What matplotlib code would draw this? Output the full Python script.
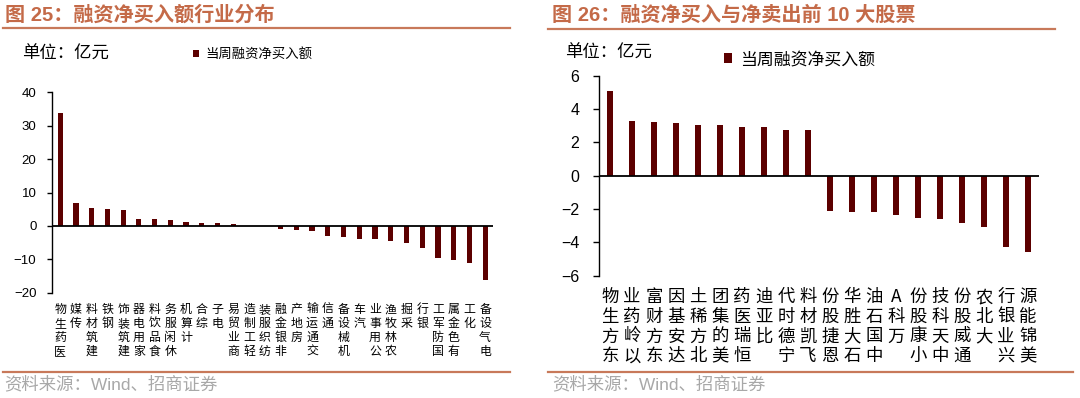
import matplotlib
matplotlib.use("Agg")
import matplotlib.pyplot as plt
from matplotlib.transforms import blended_transform_factory
from matplotlib.lines import Line2D

plt.rcParams['font.family'] = ['Liberation Sans', 'Noto Sans CJK SC', 'DejaVu Sans']

# ---------------- data ----------------
industries = ['医药生物', '传媒', '建筑材料', '钢铁', '建筑装饰', '家用电器', '食品饮料',
              '休闲服务', '计算机', '综合', '电子', '商业贸易', '轻工制造', '纺织服装',
              '非银金融', '房地产', '交通运输', '通信', '机械设备', '汽车', '公用事业',
              '农林牧渔', '采掘', '银行', '国防军工', '有色金属', '化工', '电气设备']
industry_values = [33.8, 6.8, 5.5, 5.0, 4.9, 2.2, 2.1, 1.9, 1.3, 0.9, 0.8, 0.5, 0.1, -0.1,
                   -0.8, -1.1, -1.6, -3.1, -3.3, -3.8, -4.0, -4.5, -5.2, -6.7, -9.5,
                   -10.3, -11.0, -16.3]

stocks = ['东方生物', '以岭药业', '东方财富', '达安基因', '北方稀土', '美的集团', '恒瑞医药',
          '比亚迪', '宁德时代', '飞凯材料', '恩捷股份', '石大胜华', '中国石油', '万科A',
          '小康股份', '中天科技', '通威股份', '大北农', '兴业银行', '美锦能源']
stock_values = [5.06, 3.30, 3.20, 3.18, 3.06, 3.03, 2.92, 2.90, 2.76, 2.76,
                -2.10, -2.18, -2.18, -2.38, -2.54, -2.58, -2.84, -3.06, -4.30, -4.56]

left_yticks = [40, 30, 20, 10, 0, -10, -20]
right_yticks = [6, 4, 2, 0, -2, -4, -6]

title_left = '图 25：融资净买入额行业分布'
title_right = '图 26：融资净买入与净卖出前 10 大股票'
unit_text = '单位：亿元'
legend_label = '当周融资净买入额'
source_text = '资料来源：Wind、招商证券'

# ---------------- style ----------------
W, H = 1080, 398
BAR = '#5C0000'
TITLE_C = '#C46A48'
LINE_C = '#C8795A'
SRC_C = '#A8A8A8'
CJK = ['Noto Sans CJK SC', 'DejaVu Sans']

fig = plt.figure(figsize=(W / 100, H / 100), dpi=100)


def rect(x0, y0, x1, y1):
    return [x0 / W, 1 - y1 / H, (x1 - x0) / W, (y1 - y0) / H]


def fx(x):
    return x / W


def fy(y):
    return 1 - y / H


def stack(s):
    return '\n'.join(reversed(list(s)))


def setup_panel(ax, cats, vals, yticks, width, tick_fs, tick_len, tick_pad,
                lab_fs, lab_y, lab_ls, leg_xy, leg_fs, leg_h):
    x = list(range(len(cats)))
    bars = ax.bar(x, vals, width=width, color=BAR, label=legend_label, zorder=2)
    ax.set_xlim(-0.5, len(cats) - 0.5)
    ax.set_ylim(min(yticks), max(yticks))
    ax.set_yticks(yticks)
    ax.set_xticks([])
    for s in ['top', 'right', 'bottom']:
        ax.spines[s].set_visible(False)
    ax.spines['left'].set_color('black')
    ax.spines['left'].set_linewidth(1.0)
    ax.axhline(0, color='black', lw=1.3, zorder=3)
    ax.tick_params(axis='y', direction='out', length=tick_len, width=1.0,
                   pad=tick_pad, labelsize=tick_fs, colors='black')
    ax.patch.set_alpha(0)
    tr = blended_transform_factory(ax.transData, ax.transAxes)
    for i, c in enumerate(cats):
        ax.text(i, lab_y, stack(c), transform=tr, ha='center', va='top',
                fontsize=lab_fs, family=CJK, linespacing=lab_ls,
                multialignment='center', color='black')
    ax.legend(handles=[bars], loc='center left', bbox_to_anchor=leg_xy,
              bbox_transform=fig.transFigure, frameon=False,
              prop={'family': CJK, 'size': leg_fs}, handlelength=leg_h,
              handleheight=leg_h, handletextpad=0.45, borderpad=0, borderaxespad=0)


# ---------------- left panel ----------------
axL = fig.add_axes(rect(52.3, 92.3, 493, 292.7))
setup_panel(axL, industries, industry_values, left_yticks, width=0.33,
            tick_fs=9.5, tick_len=3.4, tick_pad=8.0, lab_fs=8.6, lab_y=-0.052,
            lab_ls=1.1, leg_xy=(fx(193), fy(54)), leg_fs=9.6, leg_h=0.45)

# ---------------- right panel ----------------
axR = fig.add_axes(rect(599, 75.7, 1039, 275.7))
setup_panel(axR, stocks, stock_values, right_yticks, width=0.3,
            tick_fs=11.5, tick_len=4.3, tick_pad=10.0, lab_fs=12.5, lab_y=-0.062,
            lab_ls=1.12, leg_xy=(fx(724), fy(59)), leg_fs=12.2, leg_h=0.47)

# ---------------- headers / footers ----------------
fig.text(fx(5), fy(15), title_left, fontsize=14.5, fontweight='bold', color=TITLE_C,
         ha='left', va='center')
fig.text(fx(552), fy(15), title_right, fontsize=14.5, fontweight='bold', color=TITLE_C,
         ha='left', va='center')
fig.text(fx(22), fy(54), unit_text, fontsize=12.5, family=CJK, color='black',
         ha='left', va='center')
fig.text(fx(565), fy(53), unit_text, fontsize=12.5, family=CJK, color='black',
         ha='left', va='center')
fig.text(fx(4), fy(384), source_text, fontsize=12.5, color=SRC_C, ha='left', va='center')
fig.text(fx(552), fy(384), source_text, fontsize=12.5, color=SRC_C, ha='left', va='center')

for (x0, x1, y) in [(3, 510, 28), (548, 1055, 29), (3, 510, 372), (548, 1073, 372)]:
    fig.add_artist(Line2D([fx(x0), fx(x1)], [fy(y), fy(y)], transform=fig.transFigure,
                          color=LINE_C, lw=1.6))

fig.savefig('out.png', dpi=100, facecolor='white')
